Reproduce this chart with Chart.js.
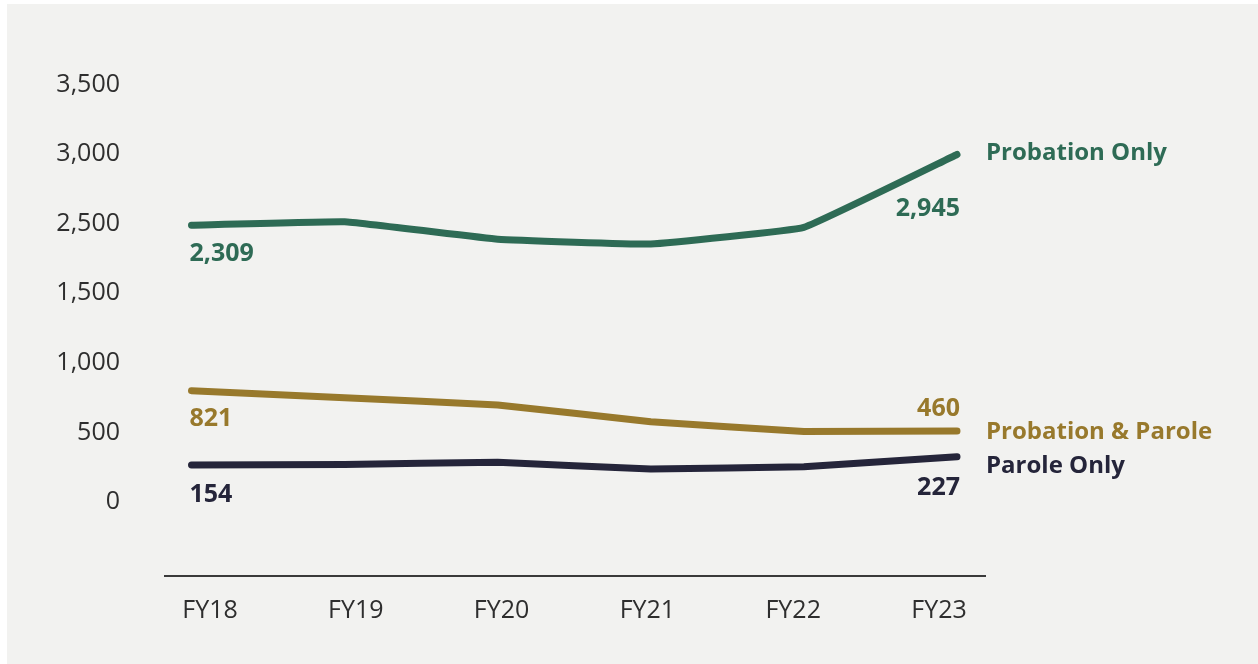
<!DOCTYPE html>
<html>
<head>
<meta charset="utf-8">
<script src="https://cdn.jsdelivr.net/npm/chart.js@4.4.1/dist/chart.umd.min.js"></script>
<style>
  html, body { margin: 0; padding: 0; background: #fff; }
  #wrap { position: relative; width: 1258px; height: 664px; }
  #panel { position: absolute; left: 7px; top: 4px; right: 0; bottom: 0; background: #f2f2f0; }
  #supervisionChart { position: absolute; left: 0; top: 0; }
</style>
</head>
<body>
<div id="wrap">
  <div id="panel"></div>
  <canvas id="supervisionChart" width="1258" height="664"></canvas>
</div>
<script>
var years = ['FY18', 'FY19', 'FY20', 'FY21', 'FY22', 'FY23'];
var probationOnly = [2309, 2340, 2183, 2140, 2290, 2945];
var probationParole = [821, 758, 693, 543, 455, 460];
var paroleOnly = [154, 158, 178, 118, 139, 227];
var seriesNames = ['Probation Only', 'Probation & Parole', 'Parole Only'];
var yTickLabels = ['0', '500', '1,000', '1,500', '2,500', '3,000', '3,500'];

var colors = ['#2e6b55', '#98792c', '#25253a'];
var tickColor = '#2e2e2e';
var fontFamily = '"Open Sans", "Noto Sans", sans-serif';

// vertical nudges for the value labels at each end and the series names
var firstOffset = [29, 28, 30];
var lastOffset = [54, -22, 31];
var nameOffset = [-1, 1, 9];

function points(values) {
  return values.map(function (v, i) { return { x: i, y: v }; });
}

function fmt(n) {
  return n.toLocaleString('en-US');
}

var endLabels = {
  id: 'endLabels',
  afterDatasetsDraw: function (chart) {
    var ctx = chart.ctx;
    ctx.save();
    ctx.textBaseline = 'middle';
    chart.data.datasets.forEach(function (ds, i) {
      var pts = chart.getDatasetMeta(i).data;
      var first = pts[0], last = pts[pts.length - 1];
      var vals = ds.data;
      ctx.fillStyle = ds.borderColor;
      ctx.font = 'bold 25px ' + fontFamily;
      ctx.textAlign = 'left';
      ctx.fillText(fmt(vals[0].y), first.x - 2, first.y + firstOffset[i]);
      ctx.textAlign = 'right';
      ctx.fillText(fmt(vals[vals.length - 1].y), last.x + 3, last.y + lastOffset[i]);
      ctx.font = 'bold 24px ' + fontFamily;
      ctx.textAlign = 'left';
      ctx.fillText(ds.label, last.x + 29, last.y + nameOffset[i]);
    });
    ctx.restore();
  }
};

function lineSet(label, values, color) {
  return {
    label: label,
    data: points(values),
    borderColor: color,
    backgroundColor: color,
    borderWidth: 7,
    borderCapStyle: 'round',
    borderJoinStyle: 'round',
    pointRadius: 0,
    tension: 0.08,
    xAxisID: 'x',
    yAxisID: 'y'
  };
}

new Chart(document.getElementById('supervisionChart'), {
  type: 'line',
  data: {
    datasets: [
      lineSet(seriesNames[0], probationOnly, colors[0]),
      lineSet(seriesNames[1], probationParole, colors[1]),
      lineSet(seriesNames[2], paroleOnly, colors[2])
    ]
  },
  options: {
    responsive: false,
    animation: false,
    layout: { padding: { left: 0, right: 273, top: 40, bottom: 0 } },
    plugins: { legend: { display: false }, tooltip: { enabled: false } },
    scales: {
      x: { type: 'linear', display: false, min: -0.1731, max: 5.1829 },
      y: { type: 'linear', display: false, min: -844, max: 3974 },
      xTicks: {
        type: 'linear',
        position: 'bottom',
        min: -0.3086,
        max: 5.3155,
        afterFit: function (scale) {
          scale.height = 88;
          scale.paddingLeft = 0;
          scale.paddingRight = 0;
        },
        afterBuildTicks: function (scale) {
          scale.ticks = years.map(function (y, i) { return { value: i }; });
        },
        grid: { display: false, drawTicks: false },
        border: { display: true, color: '#3a3a3a', width: 2 },
        ticks: {
          padding: 20,
          color: tickColor,
          font: { family: fontFamily, size: 25 },
          maxRotation: 0,
          autoSkip: false,
          callback: function (v) { return years[v]; }
        }
      },
      yTicks: {
        type: 'linear',
        position: 'left',
        min: -532,
        max: 3321,
        afterFit: function (scale) {
          scale.width = 165;
          scale.paddingTop = 0;
          scale.paddingBottom = 0;
        },
        afterBuildTicks: function (scale) {
          scale.ticks = yTickLabels.map(function (l, i) { return { value: i * 500 }; });
        },
        grid: { display: false, drawTicks: false },
        border: { display: false },
        ticks: {
          padding: 45,
          color: tickColor,
          font: { family: fontFamily, size: 25 },
          autoSkip: false,
          callback: function (v, i) { return yTickLabels[i]; }
        }
      }
    }
  },
  plugins: [endLabels]
});
</script>
</body>
</html>
